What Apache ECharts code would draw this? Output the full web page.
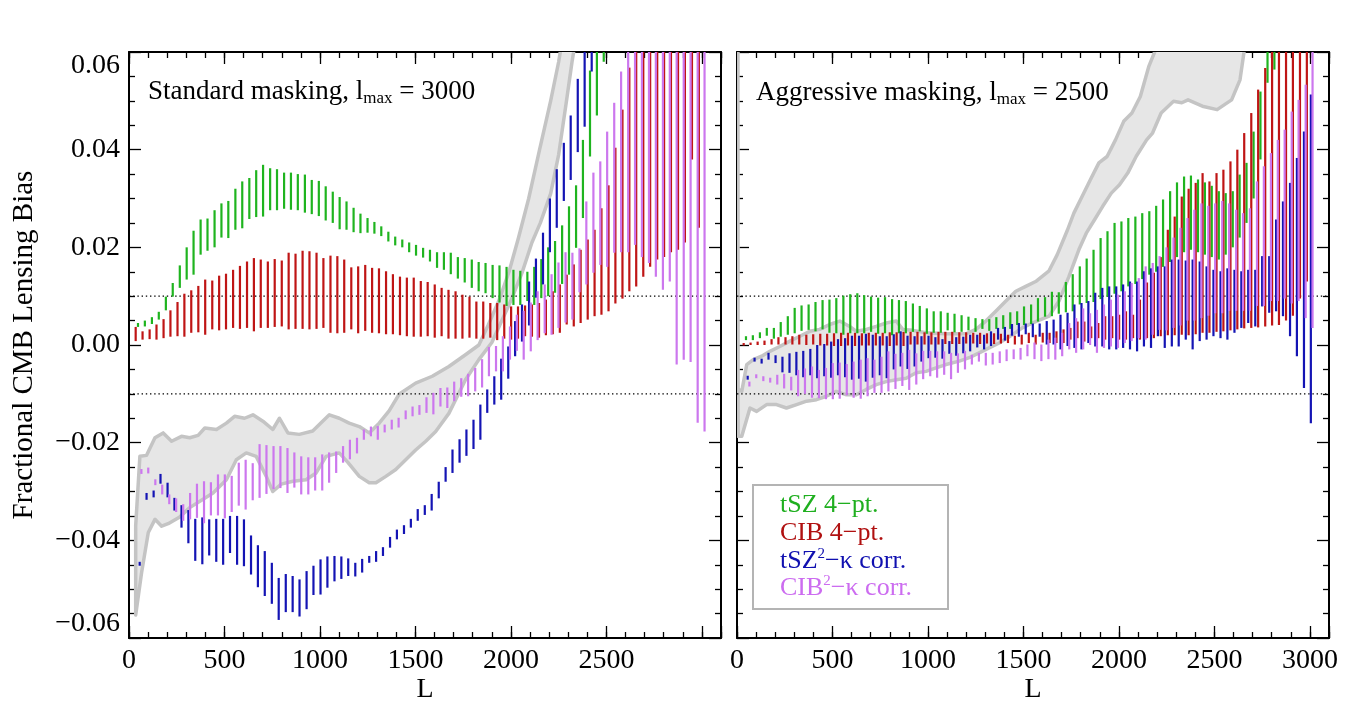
<!DOCTYPE html>
<html><head><meta charset="utf-8">
<script src="https://cdn.jsdelivr.net/npm/echarts@6/dist/echarts.min.js"></script>
<style>html,body{margin:0;padding:0;background:#fff}#c{width:1353px;height:707px}</style>
</head><body><div id="c"></div>
<script>
// ---------------- DATA ----------------
const L = [35, 71, 108, 144, 181, 217, 254, 290, 326, 363,
  399, 436, 472, 508, 545, 581, 618, 654, 690, 727,
  763, 800, 836, 872, 909, 945, 982, 1018, 1055, 1091,
  1127, 1164, 1200, 1237, 1273, 1309, 1346, 1382, 1419, 1455,
  1491, 1528, 1564, 1601, 1637, 1673, 1710, 1746, 1783, 1819,
  1855, 1892, 1928, 1965, 2001, 2037, 2074, 2110, 2147, 2183,
  2219, 2256, 2292, 2329, 2365, 2402, 2438, 2474, 2511, 2547,
  2584, 2620, 2656, 2693, 2729, 2766, 2802, 2838, 2875, 2911,
  2948, 2984];

const xTickValues = [0, 500, 1000, 1500, 2000, 2500, 3000];
const yTickValues = [-0.06, -0.04, -0.02, 0.00, 0.02, 0.04, 0.06];

// Left panel: Standard masking, lmax = 3000
const leftTszLo = [0.0037, 0.0038, 0.0043, 0.0052, 0.0071, 0.0099, 0.0117, 0.0134, 0.0144, 0.0185,
  0.0193, 0.0200, 0.0220, 0.0219, 0.0236, 0.0239, 0.0258, 0.0262, 0.0263, 0.0276,
  0.0276, 0.0279, 0.0277, 0.0276, 0.0271, 0.0268, 0.0264, 0.0255, 0.0250, 0.0237,
  0.0236, 0.0231, 0.0229, 0.0230, 0.0228, 0.0223, 0.0212, 0.0204, 0.0200, 0.0190,
  0.0183, 0.0179, 0.0171, 0.0158, 0.0154, 0.0145, 0.0136, 0.0128, 0.0117, 0.0110,
  0.0106, 0.0096, 0.0087, 0.0080, 0.0082, 0.0082, 0.0090, 0.0082, 0.0096, 0.0100,
  0.0107, 0.0125, 0.0144, 0.0199, 0.0260, 0.0386, 0.0470, 0.0580,
  0.066, 0.071, 0.077, 0.080, 0.086, 0.090, 0.095, 0.099, 0.104, 0.108, 0.113, 0.117, 0.121, 0.126];
const leftTszHi = [0.0045, 0.0050, 0.0057, 0.0068, 0.0099, 0.0127, 0.0163, 0.0200, 0.0234, 0.0257,
  0.0259, 0.0276, 0.0290, 0.0295, 0.0320, 0.0335, 0.0342, 0.0358, 0.0369, 0.0362,
  0.0360, 0.0353, 0.0353, 0.0350, 0.0349, 0.0338, 0.0336, 0.0325, 0.0314, 0.0303,
  0.0294, 0.0281, 0.0269, 0.0260, 0.0252, 0.0243, 0.0232, 0.0222, 0.0216, 0.0210,
  0.0205, 0.0199, 0.0195, 0.0190, 0.0190, 0.0189, 0.0180, 0.0178, 0.0175, 0.0170,
  0.0168, 0.0164, 0.0163, 0.0160, 0.0154, 0.0152, 0.0150, 0.0160, 0.0176, 0.0200,
  0.0213, 0.0245, 0.0284, 0.0327, 0.0420, 0.0562, 0.0650, 0.0700,
  0.082, 0.087, 0.093, 0.096, 0.102, 0.106, 0.111, 0.115, 0.120, 0.124, 0.129, 0.133, 0.137, 0.142];

const leftCibLo = [0.0008, 0.0011, 0.0012, 0.0011, 0.0014, 0.0017, 0.0018, 0.0017, 0.0025, 0.0026,
  0.0021, 0.0032, 0.0030, 0.0032, 0.0035, 0.0033, 0.0035, 0.0028, 0.0035, 0.0035,
  0.0037, 0.0038, 0.0032, 0.0033, 0.0033, 0.0032, 0.0033, 0.0035, 0.0025, 0.0024,
  0.0025, 0.0032, 0.0024, 0.0029, 0.0025, 0.0024, 0.0022, 0.0022, 0.0020, 0.0018,
  0.0017, 0.0017, 0.0018, 0.0015, 0.0018, 0.0013, 0.0013, 0.0013, 0.0015, 0.0013,
  0.0013, 0.0015, 0.0010, 0.0013, 0.0011, 0.0013, 0.0018, 0.0017, 0.0015, 0.0020,
  0.0022, 0.0025, 0.0042, 0.0038, 0.0045, 0.0052, 0.0059, 0.0062, 0.0069, 0.0085,
  0.0095, 0.0110, 0.0120, 0.0140, 0.0160, 0.0175, 0.0180, 0.0190, 0.0195, 0.0210,
  0.0380, 0.0240];
const leftCibHi = [0.0037, 0.0028, 0.0032, 0.0042, 0.0053, 0.0071, 0.0088, 0.0105, 0.0112, 0.0121,
  0.0134, 0.0132, 0.0142, 0.0146, 0.0154, 0.0162, 0.0171, 0.0178, 0.0175, 0.0171,
  0.0176, 0.0173, 0.0189, 0.0187, 0.0193, 0.0192, 0.0189, 0.0178, 0.0183, 0.0182,
  0.0175, 0.0159, 0.0161, 0.0164, 0.0158, 0.0157, 0.0151, 0.0145, 0.0140, 0.0138,
  0.0138, 0.0131, 0.0129, 0.0124, 0.0117, 0.0113, 0.0110, 0.0103, 0.0099, 0.0089,
  0.0089, 0.0086, 0.0086, 0.0083, 0.0079, 0.0079, 0.0081, 0.0083, 0.0086, 0.0093,
  0.0110, 0.0124, 0.0144, 0.0165, 0.0195, 0.0216, 0.0236, 0.0280, 0.0327, 0.0404,
  0.0482, 0.0568, 0.0660, 0.0700, 0.0750, 0.0800, 0.0850, 0.0900, 0.0900, 0.0950,
  0.1000, 0.1000];

const leftTszKLo = [-0.0452, -0.0317, -0.0312, -0.0284, -0.0312, -0.0339, -0.0374, -0.0406, -0.0442, -0.0449,
  -0.0431, -0.0444, -0.0450, -0.0426, -0.0450, -0.0453, -0.0470, -0.0496, -0.0514, -0.0530,
  -0.0563, -0.0547, -0.0547, -0.0556, -0.0541, -0.0512, -0.0511, -0.0497, -0.0484, -0.0479,
  -0.0473, -0.0474, -0.0466, -0.0446, -0.0444, -0.0432, -0.0415, -0.0398, -0.0387, -0.0374,
  -0.0360, -0.0348, -0.0339, -0.0314, -0.0280, -0.0262, -0.0241, -0.0227, -0.0213, -0.0194,
  -0.0139, -0.0122, -0.0112, -0.0069, -0.0023, 0.0007, 0.0040, 0.0097, 0.0124, 0.0190,
  0.0240, 0.0295, 0.0338, 0.0395, 0.0447, 0.0560,
  0.066, 0.071, 0.077, 0.081, 0.086, 0.092, 0.095, 0.101, 0.105, 0.110, 0.114, 0.119, 0.123, 0.129, 0.133, 0.138];
const leftTszKHi = [-0.0444, -0.0303, -0.0298, -0.0264, -0.0282, -0.0313, -0.0328, -0.0338, -0.0356, -0.0353,
  -0.0357, -0.0356, -0.0356, -0.0350, -0.0350, -0.0357, -0.0390, -0.0410, -0.0422, -0.0446,
  -0.0477, -0.0469, -0.0473, -0.0480, -0.0463, -0.0452, -0.0439, -0.0433, -0.0432, -0.0433,
  -0.0437, -0.0446, -0.0438, -0.0432, -0.0422, -0.0414, -0.0393, -0.0378, -0.0369, -0.0356,
  -0.0336, -0.0328, -0.0305, -0.0280, -0.0250, -0.0214, -0.0193, -0.0173, -0.0153, -0.0122,
  -0.0091, -0.0064, -0.0028, -0.0003, 0.0049, 0.0083, 0.0130, 0.0177, 0.0230, 0.0300,
  0.0360, 0.0414, 0.0470, 0.0545, 0.0633, 0.0740,
  0.082, 0.089, 0.093, 0.100, 0.103, 0.110, 0.113, 0.120, 0.124, 0.130, 0.133, 0.140, 0.143, 0.150, 0.155, 0.160];

const leftCibKLo = [-0.0264, -0.0263, -0.0287, -0.0306, -0.0326, -0.0342, -0.0360, -0.0357, -0.0354, -0.0365,
  -0.0349, -0.0349, -0.0355, -0.0342, -0.0329, -0.0337, -0.0318, -0.0313, -0.0305, -0.0295,
  -0.0293, -0.0303, -0.0292, -0.0306, -0.0306, -0.0298, -0.0298, -0.0282, -0.0262, -0.0241,
  -0.0234, -0.0222, -0.0194, -0.0187, -0.0194, -0.0179, -0.0173, -0.0169, -0.0152, -0.0146,
  -0.0143, -0.0139, -0.0142, -0.0126, -0.0129, -0.0115, -0.0106, -0.0105, -0.0095, -0.0087,
  -0.0064, -0.0054, -0.0054, -0.0030, -0.0012, -0.0030, -0.0013, 0.0010, 0.0024, 0.0021,
  0.0035, 0.0046, 0.0052, 0.0108, 0.0124, 0.0148, 0.0164, 0.0160, 0.0189, 0.0190,
  0.0190, 0.0205, 0.0180, 0.0168, 0.0140, 0.0113, 0.0130, -0.0040, -0.0030, -0.0035,
  -0.0159, -0.0177];
const leftCibKHi = [-0.0254, -0.0251, -0.0275, -0.0286, -0.0306, -0.0314, -0.0326, -0.0303, -0.0284, -0.0279,
  -0.0281, -0.0265, -0.0265, -0.0268, -0.0241, -0.0235, -0.0242, -0.0203, -0.0205, -0.0207,
  -0.0207, -0.0211, -0.0220, -0.0228, -0.0230, -0.0230, -0.0224, -0.0220, -0.0218, -0.0207,
  -0.0194, -0.0190, -0.0173, -0.0167, -0.0166, -0.0163, -0.0153, -0.0149, -0.0134, -0.0126,
  -0.0123, -0.0107, -0.0098, -0.0088, -0.0087, -0.0075, -0.0068, -0.0059, -0.0047, -0.0029,
  -0.0004, -0.0002, 0.0018, 0.0038, 0.0062, 0.0070, 0.0087, 0.0110, 0.0124, 0.0145,
  0.0169, 0.0190, 0.0189, 0.0198, 0.0294, 0.0353, 0.0376, 0.0437, 0.0496, 0.0560,
  0.0650, 0.0700, 0.0700, 0.0730, 0.0760, 0.0790, 0.0840, 0.0940, 0.0930, 0.0935,
  0.1060, 0.1080];

// Right panel: Aggressive masking, lmax = 2500
const rightTszLo = [0.0010, 0.0010, 0.0014, 0.0019, 0.0013, 0.0017, 0.0021, 0.0024, 0.0029, 0.0031,
  0.0028, 0.0032, 0.0025, 0.0024, 0.0021, 0.0024, 0.0024, 0.0024, 0.0027, 0.0023,
  0.0024, 0.0020, 0.0024, 0.0024, 0.0027, 0.0028, 0.0023, 0.0025, 0.0025, 0.0030,
  0.0026, 0.0027, 0.0030, 0.0027, 0.0033, 0.0029, 0.0033, 0.0033, 0.0033, 0.0041,
  0.0041, 0.0043, 0.0048, 0.0058, 0.0059, 0.0064, 0.0067, 0.0069, 0.0083, 0.0086,
  0.0088, 0.0094, 0.0099, 0.0105, 0.0110, 0.0120, 0.0125, 0.0135, 0.0144, 0.0150,
  0.0160, 0.0170, 0.0180, 0.0190, 0.0195, 0.0190, 0.0185, 0.0180, 0.0175, 0.0185,
  0.0200, 0.0220, 0.0250, 0.0300, 0.0380, 0.0537, 0.0564, 0.0650, 0.0680, 0.0700,
  0.0720, 0.0750];
const rightTszHi = [0.0018, 0.0020, 0.0026, 0.0035, 0.0035, 0.0047, 0.0059, 0.0076, 0.0081, 0.0083,
  0.0088, 0.0092, 0.0093, 0.0096, 0.0101, 0.0104, 0.0106, 0.0102, 0.0099, 0.0097,
  0.0098, 0.0094, 0.0092, 0.0090, 0.0085, 0.0080, 0.0075, 0.0069, 0.0069, 0.0066,
  0.0064, 0.0061, 0.0058, 0.0055, 0.0053, 0.0053, 0.0057, 0.0061, 0.0067, 0.0069,
  0.0079, 0.0083, 0.0096, 0.0098, 0.0109, 0.0108, 0.0129, 0.0145, 0.0161, 0.0177,
  0.0195, 0.0219, 0.0233, 0.0250, 0.0253, 0.0260, 0.0263, 0.0270, 0.0274, 0.0285,
  0.0298, 0.0315, 0.0333, 0.0345, 0.0347, 0.0339, 0.0333, 0.0326, 0.0315, 0.0311,
  0.0315, 0.0349, 0.0373, 0.0437, 0.0519, 0.0650, 0.0700, 0.0800, 0.0850, 0.0900,
  0.0950, 0.1000];

const rightCibLo = [-0.0001, 0.0000, 0.0000, 0.0000, 0.0001, 0.0001, 0.0001, 0.0001, 0.0001, 0.0000,
  0.0001, -0.0001, -0.0001, -0.0002, -0.0002, -0.0001, -0.0002, -0.0001, -0.0001, -0.0001,
  -0.0001, -0.0002, -0.0001, -0.0002, 0.0001, 0.0001, 0.0001, 0.0001, 0.0001, 0.0002,
  0.0002, 0.0002, 0.0003, 0.0003, 0.0002, 0.0003, 0.0002, 0.0003, 0.0004, 0.0001,
  0.0001, 0.0004, 0.0001, 0.0005, 0.0004, 0.0004, 0.0004, 0.0011, 0.0014, 0.0007,
  0.0014, 0.0014, 0.0011, 0.0014, 0.0011, 0.0011, 0.0014, 0.0011, 0.0014, 0.0014,
  0.0018, 0.0020, 0.0020, 0.0021, 0.0020, 0.0022, 0.0025, 0.0025, 0.0027, 0.0028,
  0.0030, 0.0032, 0.0034, 0.0035, 0.0036, 0.0038, 0.0040, 0.0041, 0.0050, 0.0060,
  0.0095, 0.0130];
const rightCibHi = [0.0004, 0.0005, 0.0007, 0.0009, 0.0012, 0.0016, 0.0016, 0.0018, 0.0021, 0.0021,
  0.0022, 0.0023, 0.0023, 0.0024, 0.0025, 0.0025, 0.0025, 0.0024, 0.0025, 0.0025,
  0.0025, 0.0026, 0.0026, 0.0027, 0.0027, 0.0027, 0.0026, 0.0026, 0.0027, 0.0027,
  0.0027, 0.0026, 0.0026, 0.0025, 0.0025, 0.0024, 0.0024, 0.0023, 0.0021, 0.0019,
  0.0021, 0.0025, 0.0021, 0.0025, 0.0025, 0.0028, 0.0032, 0.0035, 0.0048, 0.0048,
  0.0038, 0.0045, 0.0059, 0.0059, 0.0062, 0.0069, 0.0062, 0.0093, 0.0128, 0.0148,
  0.0180, 0.0236, 0.0263, 0.0304, 0.0320, 0.0332, 0.0352, 0.0335, 0.0352, 0.0359,
  0.0376, 0.0400, 0.0434, 0.0475, 0.0523, 0.0567, 0.0630, 0.0700, 0.0750, 0.0800,
  0.0850, 0.0900];

const rightTszKLo = [-0.0071, -0.0034, -0.0038, -0.0030, -0.0037, -0.0056, -0.0057, -0.0062, -0.0066, -0.0062,
  -0.0068, -0.0064, -0.0067, -0.0062, -0.0066, -0.0071, -0.0069, -0.0075, -0.0067, -0.0062,
  -0.0068, -0.0050, -0.0044, -0.0049, -0.0044, -0.0034, -0.0027, -0.0026, -0.0028, -0.0018,
  -0.0022, -0.0017, -0.0013, -0.0005, -0.0009, -0.0002, 0.0011, 0.0009, 0.0019, 0.0017,
  0.0022, 0.0016, 0.0017, 0.0001, 0.0001, -0.0009, -0.0002, -0.0006, -0.0009, 0.0004,
  -0.0003, -0.0003, -0.0009, -0.0009, -0.0006, -0.0009, -0.0013, -0.0003, -0.0006, 0.0018,
  -0.0006, -0.0003, -0.0003, 0.0011, -0.0009, 0.0008, 0.0011, 0.0018, 0.0014, 0.0011,
  0.0025, 0.0035, 0.0045, 0.0038, 0.0079, 0.0066, 0.0069, 0.0059, 0.0018, -0.0023,
  -0.0088, -0.0160];
const rightTszKHi = [-0.0063, -0.0026, -0.0028, -0.0016, -0.0021, -0.0024, -0.0017, -0.0014, -0.0012, -0.0008,
  0.0000, 0.0002, 0.0007, 0.0012, 0.0014, 0.0019, 0.0019, 0.0023, 0.0021, 0.0018,
  0.0018, 0.0022, 0.0028, 0.0019, 0.0018, 0.0018, 0.0019, 0.0016, 0.0012, 0.0008,
  0.0016, 0.0017, 0.0021, 0.0021, 0.0021, 0.0028, 0.0035, 0.0037, 0.0043, 0.0045,
  0.0044, 0.0044, 0.0044, 0.0049, 0.0052, 0.0062, 0.0066, 0.0083, 0.0086, 0.0090,
  0.0107, 0.0117, 0.0120, 0.0120, 0.0124, 0.0130, 0.0130, 0.0151, 0.0157, 0.0161,
  0.0161, 0.0175, 0.0175, 0.0173, 0.0175, 0.0171, 0.0161, 0.0154, 0.0151, 0.0157,
  0.0154, 0.0151, 0.0154, 0.0154, 0.0182, 0.0182, 0.0257, 0.0294, 0.0332, 0.0383,
  0.0437, 0.0513];

const rightCibKLo = [-0.0085, -0.0068, -0.0074, -0.0077, -0.0081, -0.0089, -0.0093, -0.0105, -0.0100, -0.0108,
  -0.0109, -0.0111, -0.0111, -0.0110, -0.0103, -0.0108, -0.0110, -0.0105, -0.0098, -0.0098,
  -0.0095, -0.0090, -0.0084, -0.0092, -0.0081, -0.0070, -0.0064, -0.0067, -0.0061, -0.0070,
  -0.0057, -0.0050, -0.0040, -0.0034, -0.0042, -0.0040, -0.0037, -0.0033, -0.0029, -0.0030,
  -0.0023, -0.0029, -0.0033, -0.0029, -0.0030, -0.0023, -0.0009, -0.0016, -0.0009, 0.0000,
  -0.0016, -0.0006, -0.0003, -0.0006, 0.0004, 0.0008, 0.0014, 0.0011, 0.0021, 0.0031,
  0.0030, 0.0035, 0.0040, 0.0050, 0.0050, 0.0055, 0.0060, 0.0065, 0.0065, 0.0070,
  0.0070, 0.0070, 0.0070, 0.0080, 0.0080, 0.0090, 0.0090, 0.0095, 0.0085, 0.0090,
  0.0055, 0.0035];
const rightCibKHi = [-0.0075, -0.0060, -0.0064, -0.0067, -0.0061, -0.0059, -0.0065, -0.0051, -0.0048, -0.0044,
  -0.0051, -0.0047, -0.0037, -0.0036, -0.0039, -0.0034, -0.0030, -0.0027, -0.0030, -0.0024,
  -0.0013, -0.0018, -0.0016, -0.0010, -0.0017, -0.0012, -0.0012, -0.0013, -0.0013, -0.0016,
  -0.0017, -0.0012, -0.0020, -0.0016, -0.0016, -0.0016, -0.0013, -0.0009, -0.0009, -0.0006,
  0.0001, 0.0005, 0.0001, 0.0011, 0.0015, 0.0025, 0.0045, 0.0055, 0.0075, 0.0065,
  0.0072, 0.0083, 0.0093, 0.0103, 0.0110, 0.0127, 0.0137, 0.0161, 0.0168, 0.0182,
  0.0200, 0.0220, 0.0240, 0.0260, 0.0277, 0.0290, 0.0285, 0.0290, 0.0295, 0.0290,
  0.0277, 0.0270, 0.0280, 0.0335, 0.0366, 0.0393, 0.0420, 0.0441, 0.0478, 0.0502,
  0.0533, 0.0650];

// Gray bands (upper / lower edges)
const leftBandUpperL = [35, 57, 92, 136, 179, 223, 275, 318, 362, 397, 458, 510, 553, 605, 649, 701, 753, 788, 832, 892,
  962, 1014, 1049, 1101, 1153, 1206, 1258, 1310, 1362, 1414, 1501, 1588, 1675, 1762, 1832, 1880, 1936, 1990, 2040, 2093,
  2150, 2208, 2250, 2275];
const leftBandUpperV = [-0.037, -0.0228, -0.0226, -0.019, -0.018, -0.0197, -0.0187, -0.019, -0.0185, -0.017,
  -0.0173, -0.016, -0.0146, -0.015, -0.0143, -0.0156, -0.0173, -0.015, -0.018, -0.0183,
  -0.0176, -0.0156, -0.0143, -0.015, -0.016, -0.0167, -0.018, -0.016, -0.0135, -0.0101,
  -0.0078, -0.0064, -0.0044, -0.002, 0.0, 0.004, 0.009, 0.015, 0.022, 0.03,
  0.04, 0.05, 0.058, 0.064];
const leftBandLowerL = [35, 66, 101, 136, 171, 205, 266, 318, 371, 440, 510, 562, 614, 666, 719, 753, 797, 858, 927, 980,
  1032, 1101, 1145, 1206, 1258, 1293, 1345, 1397, 1449, 1501, 1554, 1606, 1675, 1762, 1832, 1900, 1999, 2060, 2110, 2154,
  2208, 2250, 2291, 2320, 2345];
const leftBandLowerV = [-0.0553, -0.0466, -0.0384, -0.0357, -0.0371, -0.0366, -0.0352, -0.0333, -0.032, -0.0303,
  -0.0276, -0.0235, -0.0221, -0.0228, -0.0269, -0.03, -0.0285, -0.0279, -0.0276, -0.0262,
  -0.0228, -0.0221, -0.024, -0.0269, -0.0282, -0.0282, -0.0269, -0.0255, -0.0235, -0.0215,
  -0.0197, -0.0177, -0.014, -0.0071, -0.003, 0.0005, 0.009, 0.015, 0.021, 0.025,
  0.031, 0.039, 0.05, 0.058, 0.064];

const rightBandUpperL = [5, 6, 25, 51, 85, 129, 172, 224, 277, 329, 381, 433, 485, 538, 590, 625, 677, 729, 781, 834,
  868, 920, 990, 1094, 1199, 1251, 1303, 1355, 1408, 1460, 1512, 1564, 1634, 1677, 1731, 1764, 1807, 1851, 1895, 1938,
  1982, 2025, 2068, 2112, 2156, 2187, 2230];
const rightBandUpperV = [0.07, -0.009, -0.0095, -0.004, -0.003, -0.0023, -0.0013, -0.0003, 0.0008, 0.0018,
  0.0028, 0.0032, 0.0042, 0.0049, 0.0038, 0.0028, 0.0032, 0.0038, 0.0045, 0.0049,
  0.0032, 0.003, 0.0025, 0.0023, 0.0023, 0.0032, 0.0049, 0.0069, 0.009, 0.011,
  0.012, 0.013, 0.0152, 0.0185, 0.0236, 0.027, 0.0304, 0.0339, 0.0373, 0.0386,
  0.042, 0.0458, 0.0475, 0.0509, 0.057, 0.06, 0.066];
const rightBandLowerL = [6, 25, 68, 103, 155, 207, 259, 312, 364, 416, 468, 520, 573, 625, 677, 729, 781, 834, 886, 938,
  990, 1042, 1094, 1164, 1216, 1268, 1320, 1373, 1442, 1494, 1546, 1634, 1686, 1738, 1790, 1829, 1873, 1915, 1960, 2003,
  2046, 2090, 2145, 2176, 2221, 2286, 2329, 2362, 2437, 2514, 2590, 2634, 2655, 2680];
const rightBandLowerV = [-0.0187, -0.0187, -0.0129, -0.0136, -0.0122, -0.0122, -0.0129, -0.0122, -0.0115, -0.0112,
  -0.0105, -0.0095, -0.0102, -0.0102, -0.0091, -0.0081, -0.0075, -0.0071, -0.0068, -0.0057,
  -0.0054, -0.0047, -0.004, -0.0033, -0.0026, -0.0016, -0.0006, 0.0004, 0.0021, 0.0035,
  0.0045, 0.0059, 0.009, 0.014, 0.0195, 0.0229, 0.0257, 0.0284, 0.0311, 0.0328,
  0.0352, 0.0386, 0.042, 0.0434, 0.0475, 0.0499, 0.0496, 0.0502, 0.0489, 0.0482,
  0.0502, 0.0543, 0.06, 0.066];

const refLines = [0.01, -0.01];

// ---------------- STYLE ----------------
const FONT = '"Liberation Serif", "Times New Roman", Times, serif';
const GREEN = '#1fb41f', RED = '#bf1515', BLUE = '#1414b4', VIOLET = '#cc77ee';
const TXT_GREEN = '#1faf1f', TXT_RED = '#b01010', TXT_BLUE = '#1010b0', TXT_VIOLET = '#cc6cf0';

function fmtY(v) {
  if (Math.abs(v) < 1e-9) return '0.00';
  return (v < 0 ? '\u2212' : '') + Math.abs(v).toFixed(2);
}

const tickStyle = {color: '#000', width: 1.3};
const lineStyle = {color: '#000', width: 2};

function xAxes(g, labelMax) {
  const base = {gridIndex: g, type: 'value', min: 0, max: 3100, splitLine: {show: false}, silent: true};
  return [
    Object.assign({}, base, {position: 'bottom', interval: 500,
      axisLine: {show: true, onZero: false, lineStyle: lineStyle},
      axisTick: {show: true, inside: true, length: 12, lineStyle: tickStyle},
      axisLabel: {show: true, margin: 9, fontSize: 28, fontFamily: FONT, color: '#000',
        formatter: v => (v <= labelMax && xTickValues.indexOf(v) >= 0) ? String(v) : ''},
      name: 'L', nameLocation: 'middle', nameGap: 38, nameMoveOverlap: false,
      nameTextStyle: {fontSize: 28, fontFamily: FONT, color: '#000'}}),
    Object.assign({}, base, {position: 'top', interval: 500,
      axisLine: {show: true, onZero: false, lineStyle: lineStyle},
      axisTick: {show: true, inside: true, length: 12, lineStyle: tickStyle},
      axisLabel: {show: false}}),
    Object.assign({}, base, {position: 'bottom', interval: 100,
      axisLine: {show: false, onZero: false},
      axisTick: {show: true, inside: true, length: 6, lineStyle: tickStyle},
      axisLabel: {show: false}}),
    Object.assign({}, base, {position: 'top', interval: 100,
      axisLine: {show: false, onZero: false},
      axisTick: {show: true, inside: true, length: 6, lineStyle: tickStyle},
      axisLabel: {show: false}})
  ];
}

function yAxes(g, withLabels) {
  const base = {gridIndex: g, type: 'value', min: yTickValues[0], max: yTickValues[yTickValues.length - 1],
    interval: 0.02, splitLine: {show: false}, silent: true,
    axisLine: {show: true, onZero: false, lineStyle: lineStyle},
    axisTick: {show: true, inside: true, length: 12, lineStyle: tickStyle},
    minorTick: {show: true, splitNumber: 4, length: 6, lineStyle: tickStyle}};
  const left = Object.assign({}, base, {position: 'left'});
  if (withLabels) {
    left.axisLabel = {show: true, margin: 9, fontSize: 28, fontFamily: FONT, color: '#000', formatter: fmtY,
      verticalAlignMinLabel: 'bottom', verticalAlignMaxLabel: 'top'};
    left.name = 'Fractional CMB Lensing Bias';
    left.nameLocation = 'middle';
    left.nameGap = 90;
    left.nameMoveOverlap = false;
    left.nameTextStyle = {fontSize: 29, fontFamily: FONT, color: '#000'};
  } else {
    left.axisLabel = {show: false};
  }
  const right = Object.assign({}, base, {position: 'right', axisLabel: {show: false}});
  return [left, right];
}

function bandSeries(g, uL, uV, lL, lV) {
  return {
    type: 'custom', xAxisIndex: g * 4, yAxisIndex: g * 2, clip: true, z: 1, silent: true,
    data: [[0, 0]], encode: {x: 0, y: 1},
    renderItem: (params, api) => {
      const pts = [];
      for (let i = 0; i < uL.length; i++) pts.push(api.coord([uL[i], uV[i]]));
      for (let i = lL.length - 1; i >= 0; i--) pts.push(api.coord([lL[i], lV[i]]));
      return {type: 'polygon', shape: {points: pts},
        style: {fill: '#e6e6e6', stroke: '#c4c4c4', lineWidth: 3.5, lineJoin: 'round'}};
    }
  };
}

function refLineSeries(g, y) {
  return {type: 'line', xAxisIndex: g * 4, yAxisIndex: g * 2, data: [[0, y], [3100, y]],
    symbol: 'none', silent: true, z: 2,
    lineStyle: {color: '#000', width: 1.2, type: [1.4, 2.8]}};
}

function barSeries(g, lo, hi, color, dx) {
  return {
    type: 'custom', xAxisIndex: g * 4, yAxisIndex: g * 2, clip: true, z: 3, silent: true,
    data: L.map((l, i) => [l, lo[i], hi[i]]),
    encode: {x: 0, y: [1, 2]},
    renderItem: (params, api) => {
      const a = api.coord([api.value(0), api.value(1)]);
      const b = api.coord([api.value(0), api.value(2)]);
      return {type: 'line', shape: {x1: a[0] + dx, y1: a[1], x2: b[0] + dx, y2: b[1]},
        style: {stroke: color, lineWidth: 2.2}};
    }
  };
}

const series = [
  bandSeries(0, leftBandUpperL, leftBandUpperV, leftBandLowerL, leftBandLowerV),
  bandSeries(1, rightBandUpperL, rightBandUpperV, rightBandLowerL, rightBandLowerV),
  refLineSeries(0, refLines[0]), refLineSeries(0, refLines[1]),
  refLineSeries(1, refLines[0]), refLineSeries(1, refLines[1]),
  barSeries(0, leftTszLo, leftTszHi, GREEN, 2.3),
  barSeries(0, leftCibLo, leftCibHi, RED, 0),
  barSeries(0, leftTszKLo, leftTszKHi, BLUE, 4),
  barSeries(0, leftCibKLo, leftCibKHi, VIOLET, 5.7),
  barSeries(1, rightTszLo, rightTszHi, GREEN, 2.3),
  barSeries(1, rightCibLo, rightCibHi, RED, 0),
  barSeries(1, rightTszKLo, rightTszKHi, BLUE, 4),
  barSeries(1, rightCibKLo, rightCibKHi, VIOLET, 5.7)
];

const titleRich = {
  a: {fontSize: 27, fontFamily: FONT, fill: '#000', lineHeight: 30},
  s: {fontSize: 17, fontFamily: FONT, fill: '#000', lineHeight: 13, verticalAlign: 'bottom'}
};
function legendRich(col) {
  return {
    a: {fontSize: 26, fontFamily: FONT, fill: col, lineHeight: 28},
    p: {fontSize: 15, fontFamily: FONT, fill: col, lineHeight: 12, verticalAlign: 'top'}
  };
}
function legendText(y, text, col) {
  return {type: 'text', x: 780, y: y, z: 101, silent: true,
    style: {text: text, rich: legendRich(col), fill: col, verticalAlign: 'middle'}};
}

const option = {
  animation: false,
  backgroundColor: '#fff',
  grid: [
    {left: 129, top: 52, width: 592, height: 586, outerBoundsMode: 'none', containLabel: false},
    {left: 737, top: 52, width: 592, height: 586, outerBoundsMode: 'none', containLabel: false}
  ],
  xAxis: xAxes(0, 2500).concat(xAxes(1, 3000)),
  yAxis: yAxes(0, true).concat(yAxes(1, false)),
  series: series,
  graphic: [
    {type: 'text', x: 148, y: 92, z: 100, silent: true,
      style: {text: '{a|Standard masking, l}{s|max}{a| = 3000}', rich: titleRich, fill: '#000', verticalAlign: 'middle'}},
    {type: 'text', x: 756, y: 93, z: 100, silent: true,
      style: {text: '{a|Aggressive masking, l}{s|max}{a| = 2500}', rich: titleRich, fill: '#000', verticalAlign: 'middle'}},
    {type: 'rect', z: 100, silent: true, shape: {x: 753, y: 485, width: 195, height: 124},
      style: {fill: '#fff', stroke: '#b4b4b4', lineWidth: 2}},
    legendText(505, '{a|tSZ 4\u2212pt.}', TXT_GREEN),
    legendText(533, '{a|CIB 4\u2212pt.}', TXT_RED),
    legendText(561, '{a|tSZ}{p|2}{a|\u2212\u03ba corr.}', TXT_BLUE),
    legendText(588, '{a|CIB}{p|2}{a|\u2212\u03ba corr.}', TXT_VIOLET)
  ]
};

const chart = echarts.init(document.getElementById('c'), null, {renderer: 'canvas'});
chart.setOption(option);
</script>
</body></html>
